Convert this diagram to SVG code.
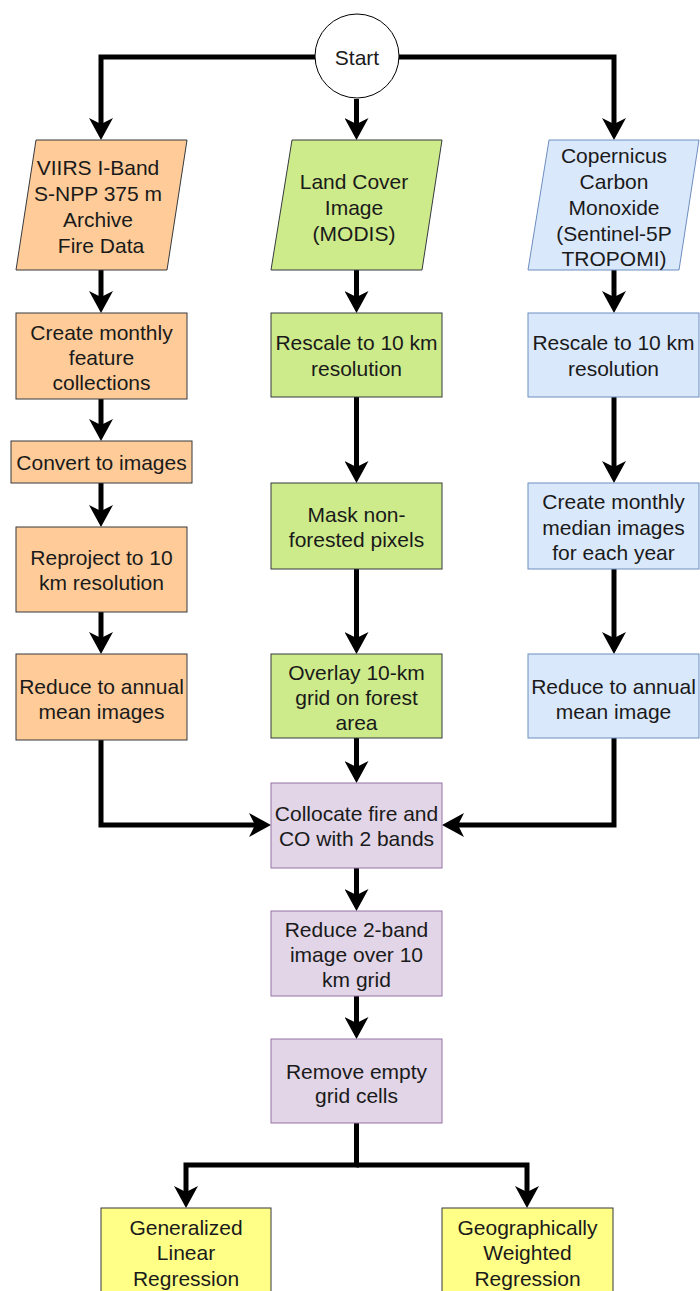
<svg xmlns="http://www.w3.org/2000/svg" width="700" height="1291" viewBox="0 0 700 1291">
<defs>
<style>
text{font-family:"Liberation Sans",Arial,sans-serif;font-size:21px;fill:#1a1a1a;text-anchor:middle}
.conn{fill:none;stroke:#000;stroke-width:5;stroke-linejoin:miter;marker-end:url(#arr)}
.or{fill:#ffcc99;stroke:#36393d;stroke-width:1}
.gr{fill:#cdeb8b;stroke:#36393d;stroke-width:1}
.bl{fill:#dae8fc;stroke:#6c8ebf;stroke-width:1}
.pu{fill:#e1d5e7;stroke:#9673a6;stroke-width:1}
.ye{fill:#ffff88;stroke:#36393d;stroke-width:1}
</style>
<marker id="arr" markerUnits="userSpaceOnUse" markerWidth="24" markerHeight="24" viewBox="0 0 24 24" refX="8" refY="12" orient="auto">
<path d="M0,0 L22,12 L0,24 L6,12 Z" fill="#000"/>
</marker>
</defs>
<rect width="700" height="1291" fill="#fff"/>
<g id="connectors">
<path class="conn" d="M315,57 H101 V126"/>
<path class="conn" d="M356.5,99 V126"/>
<path class="conn" d="M399,57 H614 V126"/>
<path class="conn" d="M101,270 V299"/>
<path class="conn" d="M101,399 V427"/>
<path class="conn" d="M101,483 V513"/>
<path class="conn" d="M101,612 V640"/>
<path class="conn" d="M101,740 V825 H257"/>
<path class="conn" d="M356.5,270 V299"/>
<path class="conn" d="M356.5,397 V469"/>
<path class="conn" d="M356.5,569 V640"/>
<path class="conn" d="M356.5,738 V769"/>
<path class="conn" d="M614,270 V299"/>
<path class="conn" d="M614,397 V469"/>
<path class="conn" d="M614,569 V640"/>
<path class="conn" d="M614,738 V825 H456"/>
<path class="conn" d="M356.5,868 V897"/>
<path class="conn" d="M356.5,996 V1025"/>
<path class="conn" d="M356.5,1123 V1165 H186 V1194"/>
<path class="conn" d="M356.5,1165 H527 V1194"/>
</g>
<g id="start">
<circle cx="357" cy="56" r="42" fill="#fff" stroke="#000" stroke-width="1"/>
<text x="357" y="65">Start</text>
</g>
<g id="viirs">
<polygon class="or" points="36,140 187,140 167,270 16,270"/>
<text x="98" y="175">VIIRS I-Band</text>
<text x="98" y="201">S-NPP 375 m</text>
<text x="98" y="227">Archive</text>
<text x="101" y="253">Fire Data</text>
</g>
<g id="landcover">
<polygon class="gr" points="292,140 442,140 422,270 271,270"/>
<text x="354" y="189">Land Cover</text>
<text x="354" y="215">Image</text>
<text x="354" y="241">(MODIS)</text>
</g>
<g id="copernicus">
<polygon class="bl" points="549,140 699,140 679,270 528,270"/>
<text x="614" y="163">Copernicus</text>
<text x="614" y="189">Carbon</text>
<text x="614" y="215">Monoxide</text>
<text x="614" y="241">(Sentinel-5P</text>
<text x="614" y="266">TROPOMI)</text>
</g>
<g id="monthly-features">
<rect class="or" x="16" y="313" width="171" height="86"/>
<text x="101.5" y="340">Create monthly</text>
<text x="101.5" y="365">feature</text>
<text x="101.5" y="390">collections</text>
</g>
<g id="convert">
<rect class="or" x="11" y="441" width="181" height="42"/>
<text x="101.5" y="470">Convert to images</text>
</g>
<g id="reproject">
<rect class="or" x="16" y="527" width="171" height="85"/>
<text x="101.5" y="565">Reproject to 10</text>
<text x="101.5" y="590">km resolution</text>
</g>
<g id="reduce-fire">
<rect class="or" x="16" y="654" width="171" height="86"/>
<text x="101.5" y="694">Reduce to annual</text>
<text x="101.5" y="719">mean images</text>
</g>
<g id="rescale-lc">
<rect class="gr" x="271" y="313" width="171" height="84"/>
<text x="356.5" y="350">Rescale to 10 km</text>
<text x="356.5" y="376">resolution</text>
</g>
<g id="mask">
<rect class="gr" x="271" y="483" width="171" height="86"/>
<text x="356.5" y="522">Mask non-</text>
<text x="356.5" y="547">forested pixels</text>
</g>
<g id="overlay">
<rect class="gr" x="271" y="654" width="171" height="84"/>
<text x="356.5" y="680">Overlay 10-km</text>
<text x="356.5" y="705">grid on forest</text>
<text x="356.5" y="730">area</text>
</g>
<g id="rescale-co">
<rect class="bl" x="528" y="313" width="171" height="84"/>
<text x="613.5" y="350">Rescale to 10 km</text>
<text x="613.5" y="376">resolution</text>
</g>
<g id="monthly-median">
<rect class="bl" x="528" y="483" width="171" height="86"/>
<text x="613.5" y="509">Create monthly</text>
<text x="613.5" y="535">median images</text>
<text x="613.5" y="560">for each year</text>
</g>
<g id="reduce-co">
<rect class="bl" x="528" y="654" width="171" height="84"/>
<text x="613.5" y="694">Reduce to annual</text>
<text x="613.5" y="719">mean image</text>
</g>
<g id="collocate">
<rect class="pu" x="271" y="783" width="171" height="85"/>
<text x="356.5" y="821">Collocate fire and</text>
<text x="356.5" y="846">CO with 2 bands</text>
</g>
<g id="reduce-2band">
<rect class="pu" x="271" y="911" width="171" height="85"/>
<text x="356.5" y="937">Reduce 2-band</text>
<text x="356.5" y="962">image over 10</text>
<text x="356.5" y="987">km grid</text>
</g>
<g id="remove-empty">
<rect class="pu" x="271" y="1039" width="171" height="84"/>
<text x="356.5" y="1079">Remove empty</text>
<text x="356.5" y="1103">grid cells</text>
</g>
<g id="glr">
<rect class="ye" x="101" y="1208" width="170" height="100"/>
<text x="186" y="1235">Generalized</text>
<text x="186" y="1260">Linear</text>
<text x="186" y="1286">Regression</text>
</g>
<g id="gwr">
<rect class="ye" x="442" y="1208" width="171" height="100"/>
<text x="527.5" y="1235">Geographically</text>
<text x="527.5" y="1260">Weighted</text>
<text x="527.5" y="1286">Regression</text>
</g>
</svg>
